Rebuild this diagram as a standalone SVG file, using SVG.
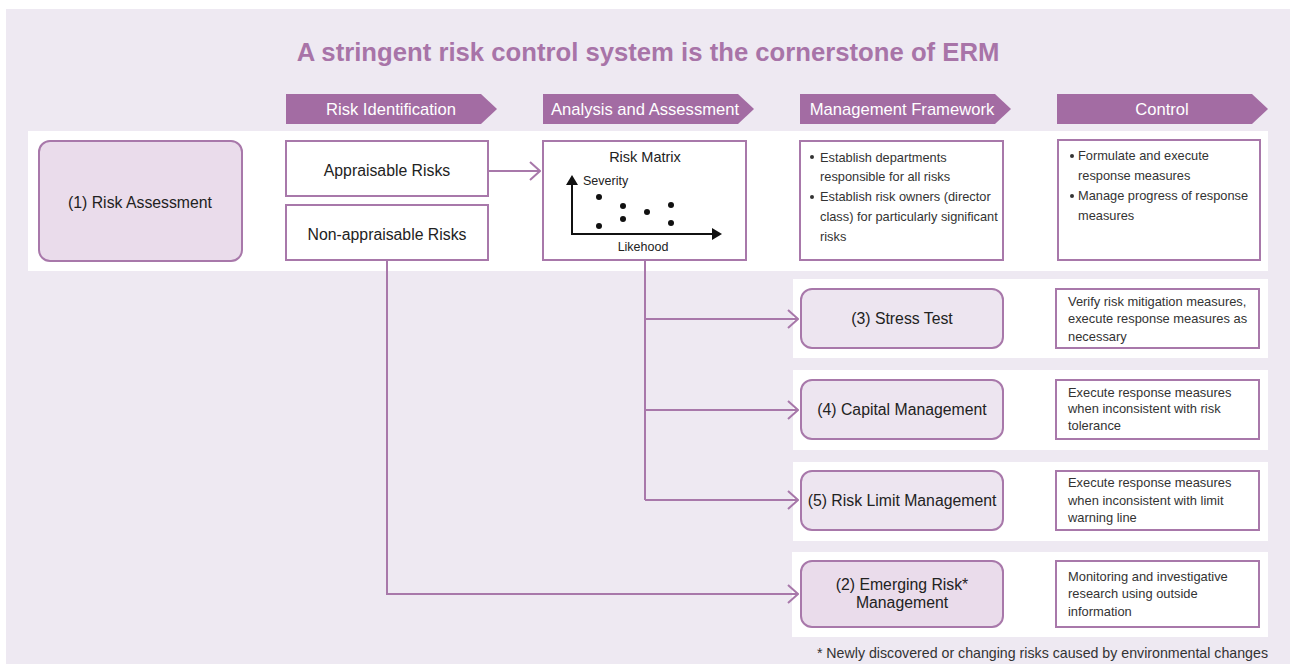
<svg xmlns="http://www.w3.org/2000/svg" width="1290" height="664" viewBox="0 0 1290 664">
<defs>
<style>
text{font-family:"Liberation Sans",Arial,sans-serif;fill:#222}
.bg{fill:#EEE9F2}
.band{fill:#fff}
.hdr{fill:#A36CA3}
.hdrt{fill:#fff;font-size:16.6px;text-anchor:middle}
.box{fill:#fff;stroke:#A878AA;stroke-width:2}
.rnode{fill:#EDE5F0;stroke:#A878AA;stroke-width:2}
.rnode2{fill:#EADCEB;stroke:#A878AA;stroke-width:2}
.nt{font-size:15.8px;text-anchor:middle}
.st{font-size:12.9px;fill:#333}
.mt{font-size:12.8px;fill:#333}
.conn{fill:none;stroke:#A878AA;stroke-width:2}
</style>
<marker id="chev" viewBox="0 0 12 20" refX="11" refY="10" markerWidth="12" markerHeight="20" markerUnits="userSpaceOnUse" orient="auto">
<path d="M1,1 L11,10 L1,19" fill="none" stroke="#A878AA" stroke-width="2"/>
</marker>
</defs>
<rect x="0" y="0" width="1290" height="664" fill="#fff"/>
<rect class="bg" x="6" y="9" width="1284" height="655"/>
<text x="648" y="61" style="font-size:25.7px;font-weight:bold;fill:#A874A8;text-anchor:middle">A stringent risk control system is the cornerstone of ERM</text>

<g id="headers">
<path class="hdr" d="M286,94 H481 L497,109 L481,124 H286 Z"/>
<text class="hdrt" x="391" y="115">Risk Identification</text>
<path class="hdr" d="M543,94 H738 L754,109 L738,124 H543 Z"/>
<text class="hdrt" x="645" y="115">Analysis and Assessment</text>
<path class="hdr" d="M800,94 H995 L1011,109 L995,124 H800 Z"/>
<text class="hdrt" x="902" y="115">Management Framework</text>
<path class="hdr" d="M1057,94 H1252 L1268,109 L1252,124 H1057 Z"/>
<text class="hdrt" x="1162" y="115">Control</text>
</g>

<g id="bands">
<rect class="band" x="28" y="131" width="1240" height="140"/>
<rect class="band" x="793" y="279" width="475" height="79"/>
<rect class="band" x="793" y="370" width="475" height="80"/>
<rect class="band" x="793" y="462" width="475" height="79"/>
<rect class="band" x="792" y="552" width="476" height="85"/>
</g>

<g id="connectors">
<path class="conn" d="M488,171 H540" marker-end="url(#chev)"/>
<path class="conn" d="M645,261 V500"/>
<path class="conn" d="M645,319 H798" marker-end="url(#chev)"/>
<path class="conn" d="M645,410 H798" marker-end="url(#chev)"/>
<path class="conn" d="M645,500 H798" marker-end="url(#chev)"/>
<path class="conn" d="M387,261 V594 H798" marker-end="url(#chev)"/>
</g>

<g id="risk-assessment">
<rect class="rnode2" x="39" y="141" width="203" height="120" rx="11"/>
<text class="nt" x="140" y="208">(1) Risk Assessment</text>
</g>

<g id="appraisable">
<rect class="box" x="286" y="141" width="202" height="55"/>
<text class="nt" x="387" y="176">Appraisable Risks</text>
</g>

<g id="non-appraisable">
<rect class="box" x="286" y="205" width="202" height="55"/>
<text class="nt" x="387" y="240">Non-appraisable Risks</text>
</g>

<g id="risk-matrix">
<rect class="box" x="543" y="141" width="203" height="119"/>
<text x="645" y="162" style="font-size:14.5px;text-anchor:middle">Risk Matrix</text>
<text x="583" y="185" style="font-size:12.5px">Severity</text>
<path d="M572,184 V234 H713" fill="none" stroke="#111" stroke-width="2"/>
<path d="M566,185 L572,175 L578,185 Z" fill="#111"/>
<path d="M712,228 L722,234 L712,240 Z" fill="#111"/>
<g fill="#111">
<circle cx="599" cy="197" r="3"/>
<circle cx="623" cy="206" r="3"/>
<circle cx="647" cy="212" r="3"/>
<circle cx="671" cy="205" r="3"/>
<circle cx="599" cy="226" r="3"/>
<circle cx="623" cy="219" r="3"/>
<circle cx="671" cy="223" r="3"/>
</g>
<text x="643" y="251" style="font-size:12.5px;text-anchor:middle">Likehood</text>
</g>

<g id="management-framework">
<rect class="box" x="800" y="141" width="203" height="119"/>
<circle cx="812" cy="157" r="2" fill="#333"/>
<text class="mt" x="820" y="162">Establish departments</text>
<text class="mt" x="820" y="181">responsible for all risks</text>
<circle cx="812" cy="197" r="2" fill="#333"/>
<text class="mt" x="820" y="201">Establish risk owners (director</text>
<text class="mt" x="820" y="221">class) for particularly significant</text>
<text class="mt" x="820" y="241">risks</text>
</g>

<g id="control">
<rect class="box" x="1058" y="140" width="202" height="120"/>
<circle cx="1072" cy="156" r="2" fill="#333"/>
<text class="mt" x="1078" y="160">Formulate and execute</text>
<text class="mt" x="1078" y="180">response measures</text>
<circle cx="1072" cy="196" r="2" fill="#333"/>
<text class="mt" x="1078" y="200">Manage progress of response</text>
<text class="mt" x="1078" y="220">measures</text>
</g>

<g id="stress-test">
<rect class="rnode" x="801" y="289" width="202" height="59" rx="11"/>
<text class="nt" x="902" y="324">(3) Stress Test</text>
</g>
<g id="stress-test-desc">
<rect class="box" x="1056" y="289" width="203" height="59"/>
<text class="st" x="1068" y="306">Verify risk mitigation measures,</text>
<text class="st" x="1068" y="323">execute response measures as</text>
<text class="st" x="1068" y="341">necessary</text>
</g>

<g id="capital-management">
<rect class="rnode" x="801" y="380" width="202" height="59" rx="11"/>
<text class="nt" x="902" y="415">(4) Capital Management</text>
</g>
<g id="capital-desc">
<rect class="box" x="1056" y="380" width="203" height="59"/>
<text class="st" x="1068" y="397">Execute response measures</text>
<text class="st" x="1068" y="413">when inconsistent with risk</text>
<text class="st" x="1068" y="430">tolerance</text>
</g>

<g id="risk-limit">
<rect class="rnode" x="801" y="471" width="202" height="59" rx="11"/>
<text class="nt" x="902" y="506">(5) Risk Limit Management</text>
</g>
<g id="risk-limit-desc">
<rect class="box" x="1056" y="471" width="203" height="59"/>
<text class="st" x="1068" y="487">Execute response measures</text>
<text class="st" x="1068" y="505">when inconsistent with limit</text>
<text class="st" x="1068" y="522">warning line</text>
</g>

<g id="emerging-risk">
<rect class="rnode2" x="801" y="561" width="202" height="66" rx="11"/>
<text class="nt" x="902" y="590">(2) Emerging Risk*</text>
<text class="nt" x="902" y="608">Management</text>
</g>
<g id="emerging-desc">
<rect class="box" x="1056" y="561" width="203" height="66"/>
<text class="st" x="1068" y="581">Monitoring and investigative</text>
<text class="st" x="1068" y="598">research using outside</text>
<text class="st" x="1068" y="616">information</text>
</g>

<text x="1268" y="658" style="font-size:14.2px;text-anchor:end;fill:#333">* Newly discovered or changing risks caused by environmental changes</text>
</svg>
